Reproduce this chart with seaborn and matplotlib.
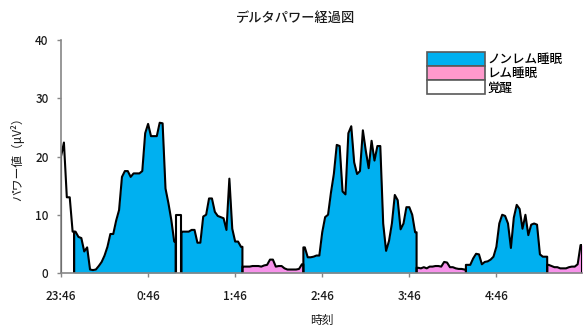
import numpy as np
import matplotlib
matplotlib.use("Agg")
import matplotlib.pyplot as plt
from matplotlib.patches import Patch
import seaborn as sns

# Delta power per 2-minute epoch, recording starts at 23:46
epoch_minutes = 2
tick_minutes = [0, 60, 120, 180, 240, 300]
tick_labels = ["23:46", "0:46", "1:46", "2:46", "3:46", "4:46"]

delta_power = [
    20.0, 22.4, 13.0, 13.0, 7.1,
    7.1, 6.2, 6.0, 3.7, 4.4, 0.6, 0.5, 0.6, 1.2, 1.9, 3.0, 4.5, 6.7, 6.7, 9.0,
    10.8, 16.5, 17.5, 17.5, 16.5, 17.1, 17.1, 17.1, 17.5, 24.0, 25.6, 23.5, 23.5,
    23.5, 25.8, 25.7, 14.5, 12.0, 9.1, 5.4,
    10.0, 10.0,
    7.1, 7.1, 7.1, 7.4, 7.4, 5.2, 5.2, 9.7, 10.0, 12.8, 12.8, 10.5, 9.8, 9.6, 9.4,
    7.4, 16.2, 7.6, 5.4, 5.4, 4.5,
    1.1, 1.1, 1.1, 1.2, 1.2, 1.2, 1.1, 1.3, 1.4, 2.3, 2.3, 1.1, 1.2, 1.2, 0.8, 0.6,
    0.6, 0.6, 0.6, 0.7, 1.5,
    4.4, 2.7, 2.7, 2.8, 3.0, 3.0, 7.0, 9.6, 10.0, 13.8, 17.0, 22.0, 21.8, 14.0,
    13.5, 24.0, 25.2, 19.0, 17.0, 17.5, 24.5, 21.0, 18.0, 22.7, 19.3, 21.8, 21.8,
    8.5, 3.8, 5.5, 8.5, 13.4, 12.5, 7.5, 8.5, 11.3, 11.3, 10.0, 7.0,
    0.9, 0.8, 1.0, 0.8, 1.1, 1.1, 1.2, 1.2, 1.1, 1.9, 1.8, 1.0, 1.0, 0.8, 0.7, 0.7,
    0.6,
    1.4, 1.4, 2.5, 3.3, 3.2, 1.5, 1.9, 2.0, 2.3, 2.8, 4.5, 8.5, 10.0, 9.8, 8.5, 4.3,
    9.5, 11.7, 11.0, 7.6, 10.0, 6.5, 8.3, 8.5, 8.3, 3.2, 2.8, 2.8,
    1.4, 1.2, 1.0, 1.0, 0.8, 0.8, 0.8, 1.0, 1.1, 1.1, 1.5, 4.8,
]

# Sleep stage runs: (stage, number of epochs)
stage_runs = [
    ("覚醒", 5), ("ノンレム睡眠", 35), ("覚醒", 2), ("ノンレム睡眠", 21),
    ("レム睡眠", 21), ("ノンレム睡眠", 39), ("レム睡眠", 17),
    ("ノンレム睡眠", 28), ("レム睡眠", 12),
]

stage_order = ["ノンレム睡眠", "レム睡眠", "覚醒"]
area_colors = {"ノンレム睡眠": "#00B0F0", "レム睡眠": "#F792EA", "覚醒": "#FFFFFF"}
legend_colors = {"ノンレム睡眠": "#00B0F0", "レム睡眠": "#FF99CC", "覚醒": "#FFFFFF"}

sns.set_theme(style="white")
plt.rcParams["font.family"] = ["Noto Sans CJK JP", "DejaVu Sans"]
plt.rcParams["font.weight"] = "medium"

text_color = "#1a1a1a"

values = np.array(delta_power)
minutes = np.arange(len(values)) * epoch_minutes
half = epoch_minutes / 2
x_end = minutes[-1] + half

fig = plt.figure(figsize=(5.85, 3.27), dpi=100)
ax = fig.add_axes([0.1043, 0.1651, 0.8906, 0.7125])

start = 0
for stage, n in stage_runs:
    idx = np.arange(start, start + n)
    start += n
    left = max(minutes[idx[0]] - half, 0)
    right = min(minutes[idx[-1]] + half, x_end)
    xs = np.concatenate([[left], minutes[idx], [right]])
    ys = np.concatenate([[values[idx[0]]], values[idx], [values[idx[-1]]]])
    ax.fill_between(xs, 0, ys, color=area_colors[stage], lw=0, zorder=1)
    ox = np.concatenate([[left], xs, [right]])
    oy = np.concatenate([[0], ys, [0]])
    sns.lineplot(x=ox, y=oy, sort=False, estimator=None, color="black",
                 lw=1.5, ax=ax, zorder=2)

ax.set_xlim(0, x_end)
ax.set_ylim(0, 40)
ax.set_xticks(tick_minutes)
ax.set_xticklabels(tick_labels)
ax.set_yticks([0, 10, 20, 30, 40])

for side in ["top", "right"]:
    ax.spines[side].set_visible(False)
for side in ["left", "bottom"]:
    ax.spines[side].set_color("#868686")
    ax.spines[side].set_linewidth(1.2)
    ax.spines[side].set_zorder(3)

ax.tick_params(axis="x", which="both", direction="out", length=3, width=1.0,
               color="#868686", pad=9, labelsize=8.5, labelcolor=text_color,
               bottom=True)
ax.tick_params(axis="y", which="both", direction="out", length=3, width=1.0,
               color="#868686", pad=6, labelsize=8.5, labelcolor=text_color,
               left=True)
ax.grid(False)

ax.set_xlabel("時刻", fontsize=8.5, color=text_color, labelpad=8)
ax.set_ylabel("パワー値（μV²）", fontsize=8.5, color=text_color, labelpad=8)
fig.text(0.506, 0.945, "デルタパワー経過図", ha="center", va="center",
         fontsize=9.5, color=text_color)

handles = [Patch(facecolor=legend_colors[s], edgecolor="#595959", lw=1.2)
           for s in stage_order]
leg = fig.legend(handles, stage_order, loc="upper left",
                 bbox_to_anchor=(427 / 585, 1 - 52 / 327), frameon=False,
                 fontsize=9, handlelength=4.6, handleheight=1.35,
                 handletextpad=0.25, labelspacing=0.0, borderpad=0,
                 borderaxespad=0)
for txt in leg.get_texts():
    txt.set_color("black")

fig.savefig("out.png", dpi=100)
